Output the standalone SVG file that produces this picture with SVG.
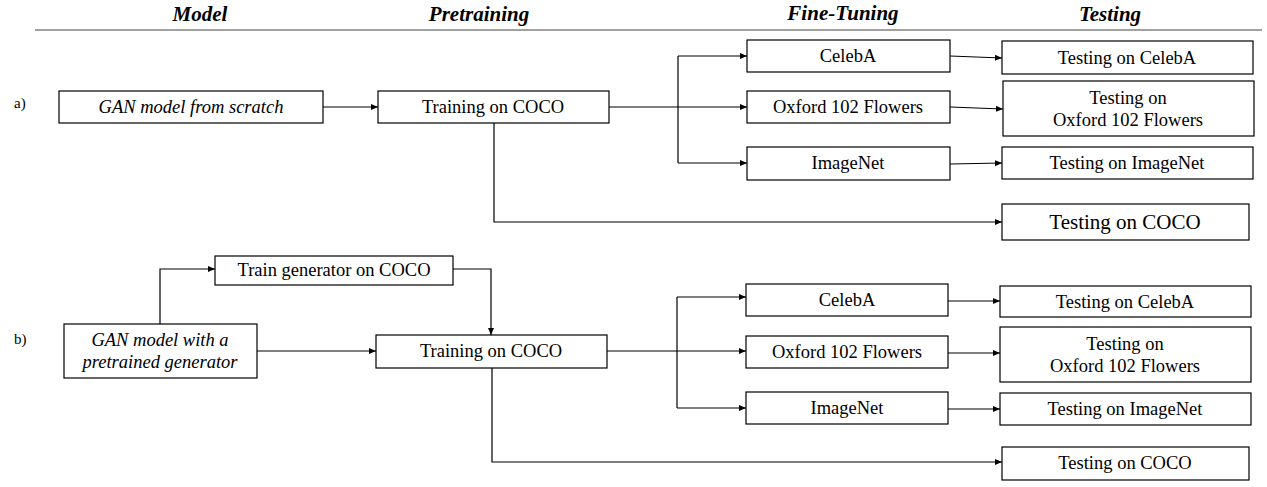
<svg xmlns="http://www.w3.org/2000/svg" width="1267" height="487" viewBox="0 0 1267 487">
<defs>
<marker id="ah" markerWidth="8" markerHeight="8" refX="7" refY="4" orient="auto" markerUnits="userSpaceOnUse">
<path d="M0,1 L7,4 L0,7 Z" fill="#000"/>
</marker>
<style>
.box{fill:#fff;stroke:#000;stroke-width:1.2}
.t{font-family:"Liberation Serif",serif;font-size:18.5px;fill:#000;text-anchor:middle;dominant-baseline:central}
.i{font-style:italic}
.h{font-family:"Liberation Serif",serif;font-size:21px;font-weight:bold;font-style:italic;fill:#000;text-anchor:middle}
.lbl{font-family:"Liberation Serif",serif;font-size:15px;fill:#000}
.c{fill:none;stroke:#000;stroke-width:1.2}
.ca{fill:none;stroke:#000;stroke-width:1.2;marker-end:url(#ah)}
</style>
</defs>
<rect width="1267" height="487" fill="#fff"/>
<g id="header">
<text class="h" x="200" y="21">Model</text>
<text class="h" x="479" y="21">Pretraining</text>
<text class="h" x="843" y="20">Fine-Tuning</text>
<text class="h" x="1110" y="21">Testing</text>
<line x1="35" y1="30" x2="1262" y2="30" stroke="#444" stroke-width="1.2"/>
<text class="lbl" x="14" y="108">a)</text>
<text class="lbl" x="14" y="344">b)</text>
</g>
<g id="connectors">
<path class="ca" d="M323,107 H378"/>
<path class="c" d="M609,107 H678"/>
<path class="ca" d="M678,107 H747"/>
<path class="c" d="M678,56 V163"/>
<path class="ca" d="M678,56 H747"/>
<path class="ca" d="M678,163 H747"/>
<path class="ca" d="M950,56 L1002,58"/>
<path class="ca" d="M950,107 L1003,109"/>
<path class="ca" d="M950,164 L1002,163"/>
<path class="ca" d="M494,123 V222 H1002"/>
<path class="ca" d="M160,324 V269 H215"/>
<path class="ca" d="M453,269 H491 V335"/>
<path class="ca" d="M257,351 H376"/>
<path class="c" d="M607,351 H677"/>
<path class="ca" d="M677,351 H746"/>
<path class="c" d="M677,297 V408"/>
<path class="ca" d="M677,297 H746"/>
<path class="ca" d="M677,408 H746"/>
<path class="ca" d="M948,301 H1000"/>
<path class="ca" d="M948,353 H1000"/>
<path class="ca" d="M948,409 H1000"/>
<path class="ca" d="M492,368 V462 H1002"/>
</g>
<g id="a-model"><rect class="box" x="59" y="91" width="264" height="32"/><text class="t i" x="191" y="107">GAN model from scratch</text></g>
<g id="a-train"><rect class="box" x="378" y="91" width="231" height="32"/><text class="t" x="493" y="107">Training  on COCO</text></g>
<g id="a-celeba"><rect class="box" x="747" y="40" width="203" height="32"/><text class="t" x="848" y="56">CelebA</text></g>
<g id="a-oxford"><rect class="box" x="747" y="91" width="203" height="32"/><text class="t" x="848" y="107">Oxford 102  Flowers</text></g>
<g id="a-imagenet"><rect class="box" x="747" y="147" width="203" height="33"/><text class="t" x="848" y="163">ImageNet</text></g>
<g id="a-test-celeba"><rect class="box" x="1002" y="41" width="251" height="33"/><text class="t" x="1127" y="58">Testing on CelebA</text></g>
<g id="a-test-oxford"><rect class="box" x="1003" y="81" width="251" height="55"/><text class="t" x="1128" y="98">Testing on</text><text class="t" x="1128" y="120">Oxford 102  Flowers</text></g>
<g id="a-test-imagenet"><rect class="box" x="1002" y="147" width="251" height="32"/><text class="t" x="1127" y="163">Testing on ImageNet</text></g>
<g id="a-test-coco"><rect class="box" x="1002" y="204" width="247" height="36"/><text class="t" x="1125" y="222" style="font-size:21px">Testing  on COCO</text></g>
<g id="b-train-gen"><rect class="box" x="215" y="256" width="238" height="29"/><text class="t" x="334" y="270">Train generator  on COCO</text></g>
<g id="b-model"><rect class="box" x="64" y="324" width="193" height="54"/><text class="t i" x="160" y="340">GAN model with a</text><text class="t i" x="160" y="362">pretrained generator</text></g>
<g id="b-train"><rect class="box" x="376" y="335" width="231" height="33"/><text class="t" x="491" y="351">Training  on COCO</text></g>
<g id="b-celeba"><rect class="box" x="746" y="284" width="202" height="32"/><text class="t" x="847" y="300">CelebA</text></g>
<g id="b-oxford"><rect class="box" x="746" y="336" width="202" height="32"/><text class="t" x="847" y="352">Oxford 102  Flowers</text></g>
<g id="b-imagenet"><rect class="box" x="746" y="392" width="202" height="32"/><text class="t" x="847" y="408">ImageNet</text></g>
<g id="b-test-celeba"><rect class="box" x="1000" y="286" width="251" height="31"/><text class="t" x="1125" y="302">Testing on CelebA</text></g>
<g id="b-test-oxford"><rect class="box" x="1000" y="327" width="251" height="55"/><text class="t" x="1125" y="344">Testing on</text><text class="t" x="1125" y="366">Oxford 102  Flowers</text></g>
<g id="b-test-imagenet"><rect class="box" x="1000" y="393" width="251" height="32"/><text class="t" x="1125" y="409">Testing on ImageNet</text></g>
<g id="b-test-coco"><rect class="box" x="1002" y="447" width="247" height="33"/><text class="t" x="1125" y="463">Testing on COCO</text></g>
</svg>
